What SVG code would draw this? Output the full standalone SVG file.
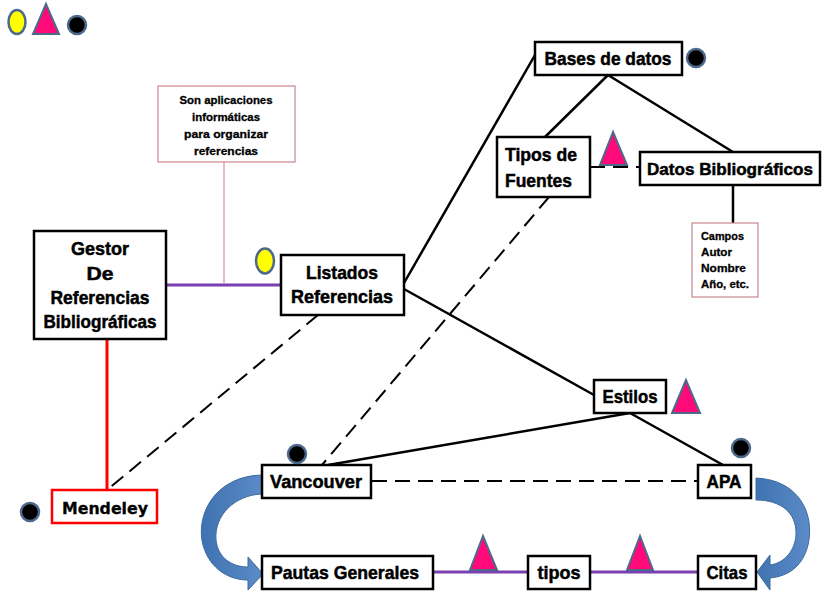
<svg xmlns="http://www.w3.org/2000/svg" width="823" height="593" viewBox="0 0 823 593">
<defs>
<style>
.box{fill:#fff;stroke:#000;stroke-width:2.5}
.note{fill:#fff;stroke:#c98790;stroke-width:1.2}
.t{font-family:"Liberation Sans",Arial,sans-serif;font-weight:bold;font-size:19px;fill:#000;stroke:#000;stroke-width:0.5}
.s{font-family:"Liberation Sans",Arial,sans-serif;font-weight:bold;font-size:11.5px;fill:#000;stroke:#000;stroke-width:0.3}
.ln{stroke:#000;stroke-width:2.5;fill:none}
.dash{stroke:#000;stroke-width:2;fill:none;stroke-dasharray:15 8}
.pur{stroke:#7a3fb0;stroke-width:3;fill:none}
.tri{fill:#ff0a78;stroke:#4d6a8c;stroke-width:2}
.dot{fill:#000;stroke:#4d6a8c;stroke-width:2.5}
.yel{fill:#ffff00;stroke:#4d6a8c;stroke-width:2.5}
.arr{stroke:#3d6a9e;stroke-width:1}
</style>
<linearGradient id="bg" x1="0" y1="0" x2="1" y2="0">
<stop offset="0" stop-color="#3f72b0"/><stop offset="1" stop-color="#5b8cc8"/>
</linearGradient>
</defs>
<rect width="823" height="593" fill="#fff"/>

<g id="connectors">
<line class="pur" x1="166" y1="285" x2="281" y2="285"/>
<line x1="224" y1="162" x2="224" y2="284" stroke="#e08a96" stroke-width="1.2"/>
<line x1="107" y1="339" x2="107" y2="490" stroke="#ff0000" stroke-width="3"/>
<line class="dash" x1="318" y1="315" x2="107" y2="490"/>
<line class="ln" x1="404" y1="283" x2="535" y2="55"/>
<line class="ln" x1="404" y1="289" x2="594" y2="395"/>
<line class="ln" x1="608" y1="75" x2="545" y2="137"/>
<line class="ln" x1="608" y1="75" x2="733" y2="152"/>
<line class="ln" x1="733" y1="185" x2="733" y2="223"/>
<line class="dash" x1="590" y1="167" x2="640" y2="167"/>
<line class="dash" x1="549" y1="197" x2="322" y2="465"/>
<line class="ln" x1="630" y1="413" x2="328" y2="465"/>
<line class="ln" x1="630" y1="413" x2="723" y2="465"/>
<line class="dash" x1="372" y1="481" x2="698" y2="481"/>
<line class="pur" x1="433" y1="572" x2="528" y2="572"/>
<line class="pur" x1="590" y1="572" x2="698" y2="572"/>
<path class="arr" fill="url(#bg)" d="M262 475 C215 476 195 515 203 545 C210 570 230 580 248 580 L248 590 L263 574 L248 557 L248 567 C232 567 218 558 216 540 C214 515 235 495 262 494 Z"/>
<path class="arr" fill="url(#bg)" d="M756 478 C800 480 815 515 808 545 C803 565 790 576 770 578 L770 590 L757 572 L770 555 L770 565 C785 563 795 550 796 535 C797 512 780 500 756 500 Z"/>
</g>

<g id="legend">
<ellipse class="yel" cx="17" cy="22" rx="8.5" ry="12"/>
<polygon class="tri" points="46,4 33,34 59,34"/>
<circle class="dot" cx="77" cy="25" r="9"/>
</g>

<g id="note">
<rect class="note" x="158" y="86" width="137" height="76"/>
<text class="s" text-anchor="middle" x="226" y="104" textLength="93" lengthAdjust="spacingAndGlyphs">Son aplicaciones</text>
<text class="s" text-anchor="middle" x="226" y="121" textLength="68" lengthAdjust="spacingAndGlyphs">informáticas</text>
<text class="s" text-anchor="middle" x="226" y="138" textLength="84" lengthAdjust="spacingAndGlyphs">para  organizar</text>
<text class="s" text-anchor="middle" x="226" y="155" textLength="64" lengthAdjust="spacingAndGlyphs">referencias</text>
</g>

<g id="gestor">
<rect class="box" x="34" y="231" width="132" height="108"/>
<text class="t" text-anchor="middle" x="100" y="255" textLength="58" lengthAdjust="spacingAndGlyphs">Gestor</text>
<text class="t" text-anchor="middle" x="100" y="280" textLength="27" lengthAdjust="spacingAndGlyphs">De</text>
<text class="t" text-anchor="middle" x="100" y="304" textLength="99" lengthAdjust="spacingAndGlyphs">Referencias</text>
<text class="t" text-anchor="middle" x="100" y="328" textLength="113" lengthAdjust="spacingAndGlyphs">Bibliográficas</text>
</g>

<g id="listados">
<rect class="box" x="281" y="255" width="123" height="60"/>
<text class="t" text-anchor="middle" x="342" y="279" textLength="72" lengthAdjust="spacingAndGlyphs">Listados</text>
<text class="t" text-anchor="middle" x="342" y="303" textLength="102" lengthAdjust="spacingAndGlyphs">Referencias</text>
<ellipse class="yel" cx="265" cy="261" rx="9" ry="12.5"/>
</g>

<g id="bases">
<rect class="box" x="535" y="42" width="147" height="33"/>
<text class="t" text-anchor="middle" x="608" y="65" textLength="127" lengthAdjust="spacingAndGlyphs">Bases de datos</text>
<circle class="dot" cx="696" cy="58" r="9"/>
</g>

<g id="tipos-fuentes">
<rect class="box" x="497" y="137" width="93" height="60"/>
<text class="t" x="505" y="161" textLength="72" lengthAdjust="spacingAndGlyphs">Tipos de</text>
<text class="t" x="505" y="187" textLength="67" lengthAdjust="spacingAndGlyphs">Fuentes</text>
<polygon class="tri" points="613,132 600,165 627,165"/>
</g>

<g id="datos">
<rect class="box" x="640" y="152" width="180" height="33"/>
<text class="t" x="647" y="175" font-size="17" stroke-width="0.7" textLength="166" lengthAdjust="spacingAndGlyphs" style="font-size:17px">Datos Bibliográficos</text>
</g>

<g id="campos">
<rect class="note" x="692" y="223" width="66" height="74"/>
<text class="s" x="701" y="240" textLength="43" lengthAdjust="spacingAndGlyphs">Campos</text>
<text class="s" x="701" y="256" textLength="31" lengthAdjust="spacingAndGlyphs">Autor</text>
<text class="s" x="701" y="272" textLength="45" lengthAdjust="spacingAndGlyphs">Nombre</text>
<text class="s" x="701" y="288" textLength="48" lengthAdjust="spacingAndGlyphs">Año, etc.</text>
</g>

<g id="mendeley">
<rect x="52" y="490" width="105" height="33" fill="#fff" stroke="#ff0000" stroke-width="2.5"/>
<text x="105" y="514" text-anchor="middle" font-family="'DejaVu Sans',Verdana,sans-serif" font-weight="bold" font-size="16" stroke="#000" stroke-width="0.3" textLength="86" lengthAdjust="spacingAndGlyphs">Mendeley</text>
<circle class="dot" cx="30" cy="512" r="9"/>
</g>

<g id="estilos">
<rect class="box" x="594" y="380" width="72" height="33"/>
<text class="t" text-anchor="middle" x="630" y="403" textLength="55" lengthAdjust="spacingAndGlyphs">Estilos</text>
<polygon class="tri" points="686,380 672,413 700,413"/>
</g>

<g id="vancouver">
<rect class="box" x="262" y="465" width="109" height="33"/>
<text class="t" text-anchor="middle" x="316" y="488" textLength="92" lengthAdjust="spacingAndGlyphs">Vancouver</text>
<circle class="dot" cx="297" cy="454" r="9"/>
</g>

<g id="apa">
<rect class="box" x="698" y="465" width="53" height="33"/>
<text class="t" text-anchor="middle" x="724" y="488" textLength="35" lengthAdjust="spacingAndGlyphs">APA</text>
<circle class="dot" cx="741" cy="448" r="9"/>
</g>

<g id="pautas">
<rect class="box" x="262" y="556" width="171" height="33"/>
<text class="t" text-anchor="middle" x="345" y="579" textLength="148" lengthAdjust="spacingAndGlyphs">Pautas Generales</text>
</g>

<g id="tipos">
<rect class="box" x="528" y="556" width="62" height="33"/>
<text class="t" text-anchor="middle" x="559" y="579" textLength="43" lengthAdjust="spacingAndGlyphs">tipos</text>
<polygon class="tri" points="483,536 470,570 497,570"/>
<polygon class="tri" points="640,536 627,570 653,570"/>
</g>

<g id="citas">
<rect class="box" x="698" y="556" width="58" height="33"/>
<text class="t" text-anchor="middle" x="727" y="579" textLength="41" lengthAdjust="spacingAndGlyphs">Citas</text>
</g>
</svg>
